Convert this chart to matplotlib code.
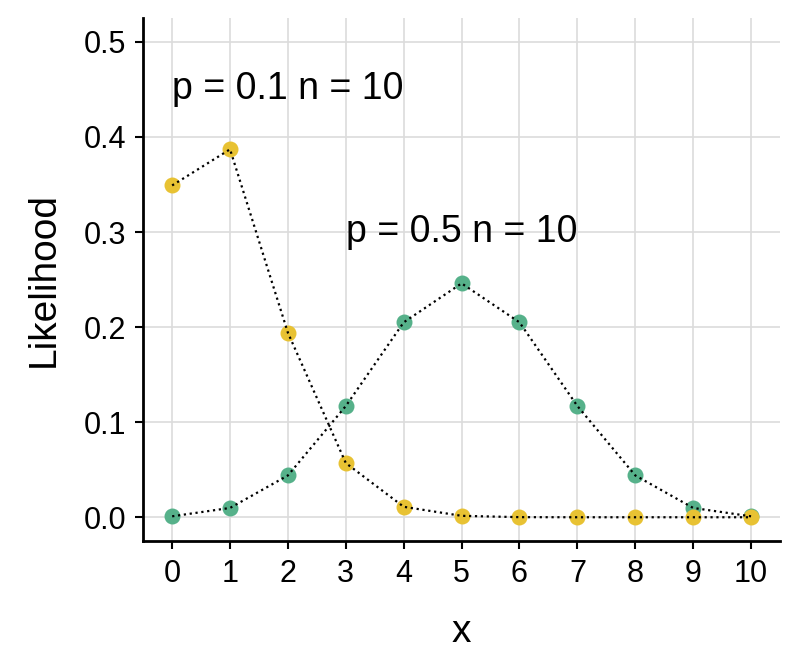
import matplotlib.pyplot as plt

plt.rcParams['font.family'] = ['Liberation Sans', 'DejaVu Sans']

x = list(range(11))
lik_p01 = [0.349, 0.387, 0.194, 0.057, 0.011, 0.0015, 0.0001, 0.0, 0.0, 0.0, 0.0]
lik_p05 = [0.001, 0.0098, 0.044, 0.117, 0.205, 0.246, 0.205, 0.117, 0.044, 0.0098, 0.001]

green = '#56b18a'
yellow = '#e8c233'

fig = plt.figure(figsize=(8, 6.7), dpi=100)
ax = fig.add_axes([0.179, 0.1925, 0.796, 0.7805])

ax.plot(x, lik_p05, 'o', color=green, markersize=11.5, markeredgewidth=0, zorder=3)
ax.plot(x, lik_p01, 'o', color=yellow, markersize=11.5, markeredgewidth=0, zorder=3)
ax.plot(x, lik_p05, ':', color='black', linewidth=1.6, zorder=4)
ax.plot(x, lik_p01, ':', color='black', linewidth=1.6, zorder=4)

ax.text(0, 0.45, 'p = 0.1 n = 10', fontsize=27, ha='left', va='center')
ax.text(3, 0.30, 'p = 0.5 n = 10', fontsize=27, ha='left', va='center')

ax.set_xlim(-0.5, 10.5)
ax.set_ylim(-0.025, 0.525)
ax.set_xticks(x)
ax.set_yticks([0.0, 0.1, 0.2, 0.3, 0.4, 0.5])
ax.set_yticklabels(['0.0', '0.1', '0.2', '0.3', '0.4', '0.5'])
ax.grid(True, color='#dcdcdc', linewidth=1.2)
ax.set_axisbelow(True)

for side in ['top', 'right']:
    ax.spines[side].set_visible(False)
for side in ['left', 'bottom']:
    ax.spines[side].set_linewidth(2)
ax.tick_params(axis='both', labelsize=22, width=1.5, length=6, color='black')
ax.tick_params(axis='x', pad=7)
ax.tick_params(axis='y', pad=6)

ax.set_xlabel('x', fontsize=28, labelpad=18)
ax.set_ylabel('Likelihood', fontsize=28, labelpad=16)

fig.savefig('out.png', dpi=100)
